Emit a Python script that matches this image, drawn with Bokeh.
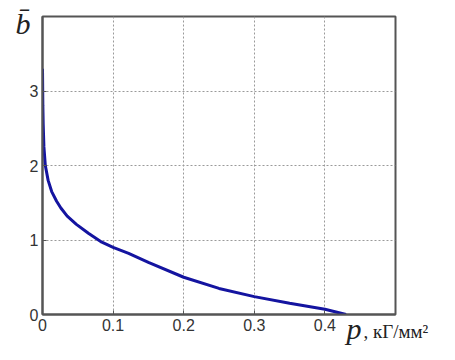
from bokeh.plotting import figure
from bokeh.models import Range1d, Label, FixedTicker
from bokeh.embed import file_html
from bokeh.resources import INLINE

# data
p_vals = [0.0, 0.0005, 0.001, 0.002, 0.004, 0.008, 0.013, 0.02, 0.026, 0.035,
          0.048, 0.065, 0.084, 0.1, 0.122, 0.15, 0.2, 0.25, 0.3, 0.35, 0.4, 0.43]
b_vals = [3.3, 2.8, 2.55, 2.25, 2.0, 1.8, 1.65, 1.52, 1.43, 1.32,
          1.21, 1.09, 0.97, 0.9, 0.82, 0.70, 0.50, 0.35, 0.24, 0.15, 0.07, 0.0]
x_ticks = [0, 0.1, 0.2, 0.3, 0.4]
y_ticks = [0, 1, 2, 3]
x_tick_labels = {0: "0", 0.1: "0.1", 0.2: "0.2", 0.3: "0.3", 0.4: "0.4"}

W, H = 452, 360
FL, FT, FR, FB = 42, 16, 395, 314   # frame box in canvas pixels
p = figure(width=W, height=H, output_backend="svg", toolbar_location=None,
           x_range=Range1d(0, 0.5), y_range=Range1d(0, 4),
           min_border_left=FL, min_border_top=FT, min_border_right=W - FR,
           min_border_bottom=H - FB)
p.background_fill_color = "white"
p.border_fill_color = "white"
p.outline_line_color = "#555555"
p.outline_line_width = 2

p.line(p_vals, b_vals, line_color="#1414a0", line_width=3)

for ax in (p.xaxis[0], p.yaxis[0]):
    ax.axis_line_color = "#555555"
    ax.axis_line_width = 2
    ax.major_tick_in = 4
    ax.major_tick_out = 0
    ax.minor_tick_line_color = None
    ax.major_tick_line_color = "#555555"
    ax.major_label_text_font = "Liberation Sans"
    ax.major_label_text_font_size = "16px"
    ax.major_label_text_color = "#333333"
    ax.major_label_standoff = 4

p.xaxis.ticker = FixedTicker(ticks=x_ticks)
p.yaxis.ticker = FixedTicker(ticks=y_ticks)
p.xaxis.major_label_overrides = x_tick_labels

p.xgrid.ticker = FixedTicker(ticks=x_ticks)
p.ygrid.ticker = FixedTicker(ticks=y_ticks)
for g in (p.xgrid[0], p.ygrid[0]):
    g.grid_line_color = "#9a9a9a"
    g.grid_line_dash = "2 2"
    g.grid_line_width = 1

# labels live in side panels (not clipped to the frame)
lab_p = Label(x=346 - FR, y=-14, x_units="screen", y_units="screen", text="p",
              text_font="Liberation Serif", text_font_style="italic",
              text_font_size="30px", text_color="#222222", text_baseline="alphabetic")
lab_u = Label(x=363 - FL, y=23, x_units="screen", y_units="screen", text=", кГ/мм²",
              text_font="Liberation Serif", text_font_size="19px",
              text_color="#222222", text_baseline="alphabetic")
lab_b = Label(x=4, y=FB - 38 + 15, x_units="screen", y_units="screen", text="b̄",
              text_font="Liberation Serif", text_font_style="italic",
              text_font_size="30px", text_color="#222222", text_baseline="alphabetic")
p.add_layout(lab_p, "right")
p.add_layout(lab_u, "below")
p.add_layout(lab_b, "left")

open("out.html", "w").write(file_html(p, INLINE))
